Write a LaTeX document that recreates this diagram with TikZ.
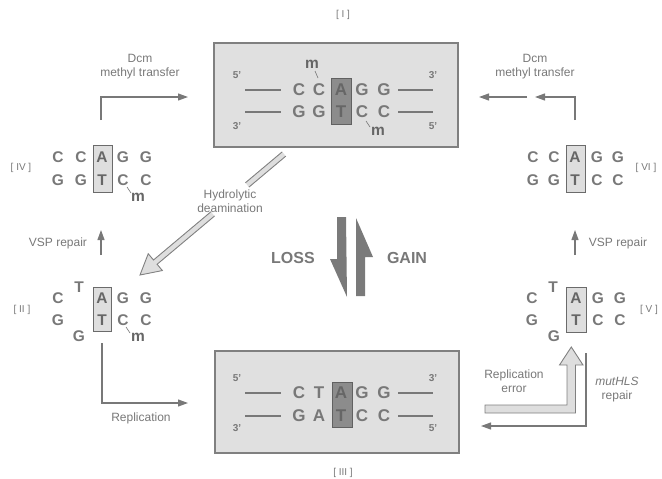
\documentclass[tikz,border=0pt]{standalone}
\usepackage{fontspec}
\setmainfont{Liberation Sans}
\usetikzlibrary{arrows.meta,calc}
\definecolor{ink}{HTML}{787878}
\definecolor{inkdark}{HTML}{666666}
\begin{document}
\begin{tikzpicture}[x=1pt,y=-1pt,
  nt/.style={font=\fontsize{17}{17}\selectfont\bfseries, text=ink, inner sep=0pt},
  ntin/.style={nt, text=inkdark},
  ns/.style={font=\fontsize{15.5}{15.5}\selectfont\bfseries, text=ink, inner sep=0pt},
  nsin/.style={ns, text=inkdark},
  mlab/.style={font=\fontsize{15.5}{15.5}\selectfont\bfseries, text=inkdark, inner sep=0pt},
  lbl/.style={font=\fontsize{12}{14}\selectfont, text=ink, align=center, inner sep=0pt},
  roman/.style={font=\fontsize{10}{10}\selectfont, text=ink, inner sep=0pt},
  prime/.style={font=\fontsize{10}{10}\selectfont\bfseries, text=ink, inner sep=0pt},
  bigword/.style={font=\fontsize{16}{16}\selectfont\bfseries, text=ink, inner sep=0pt},
  panel/.style={draw=black!50, line width=1.3pt, fill=black!12, inner sep=0pt},
  hldark/.style={draw=black!62, fill=black!45, line width=1pt, inner sep=0pt},
  hllight/.style={draw=black!58, fill=black!13, line width=1pt, inner sep=0pt},
  strand/.style={draw=ink, line width=1.5pt},
  tick/.style={draw=ink, line width=0.6pt},
  arr/.style={draw=ink, line width=1.1pt, -{Triangle[length=10pt,width=7pt]}},
  hollowfill/.style={fill=black!13},
  hollowline/.style={draw=black!50, line width=0.9pt, line join=miter},
  halfarrow/.style={fill=black!52}
]
\useasboundingbox (0,0) rectangle (662,479);

% ---------- panel [I] : methylated site ----------
\node[panel, minimum width=244, minimum height=104] (boxI) at (336,95) {};
\node[roman] (romI) at (343,15) {[ I ]};
\node[hldark, minimum width=20, minimum height=46] (hlI) at (341,101) {};
\foreach \ch/\x [count=\i] in {C/299,C/319,G/362,G/384}
  \node[nt] (It\i) at (\x,90) {\ch};
\foreach \ch/\x [count=\i] in {G/299,G/319,C/362,C/384}
  \node[nt] (Ib\i) at (\x,112) {\ch};
\node[ntin] (IA) at (341,90) {A};
\node[ntin] (IT) at (341,112) {T};
\node[prime] (I5a) at (237,75) {5'};
\node[prime] (I3a) at (433,75) {3'};
\node[prime] (I3b) at (237,126) {3'};
\node[prime] (I5b) at (433,126) {5'};
\coordinate (IlA) at (245,90);  \coordinate (IlB) at (281,90);
\coordinate (IrA) at (398,90);  \coordinate (IrB) at (433,90);
\coordinate (IlC) at (245,112); \coordinate (IlD) at (281,112);
\coordinate (IrC) at (398,112); \coordinate (IrD) at (433,112);
\draw[strand] (IlA) -- (IlB);  \draw[strand] (IrA) -- (IrB);
\draw[strand] (IlC) -- (IlD);  \draw[strand] (IrC) -- (IrD);
\node[mlab] (Im1) at (312,64) {m};
\node[mlab] (Im2) at (378,131) {m};
\draw[tick] (315,71) -- (318,78);
\draw[tick] (366,121) -- (370,127);

% ---------- panel [III] : mutated site ----------
\node[panel, minimum width=244, minimum height=102] (boxIII) at (337,402) {};
\node[roman] (romIII) at (343,473) {[ III ]};
\node[hldark, minimum width=20, minimum height=45] (hlIII) at (342,404.5) {};
\foreach \ch/\x [count=\i] in {C/299,T/319,G/362,G/384}
  \node[nt] (IIIt\i) at (\x,393) {\ch};
\foreach \ch/\x [count=\i] in {G/299,A/319,C/362,C/384}
  \node[nt] (IIIb\i) at (\x,416) {\ch};
\node[ntin] (IIIA) at (341,393) {A};
\node[ntin] (IIIT) at (341,416) {T};
\node[prime] (III5a) at (237,378) {5'};
\node[prime] (III3a) at (433,378) {3'};
\node[prime] (III3b) at (237,428) {3'};
\node[prime] (III5b) at (433,428) {5'};
\coordinate (IIIlA) at (245,393); \coordinate (IIIlB) at (281,393);
\coordinate (IIIrA) at (398,393); \coordinate (IIIrB) at (433,393);
\coordinate (IIIlC) at (245,416); \coordinate (IIIlD) at (281,416);
\coordinate (IIIrC) at (398,416); \coordinate (IIIrD) at (433,416);
\draw[strand] (IIIlA) -- (IIIlB);  \draw[strand] (IIIrA) -- (IIIrB);
\draw[strand] (IIIlC) -- (IIIlD);  \draw[strand] (IIIrC) -- (IIIrD);

% ---------- [IV] ----------
\node[roman] (romIV) at (21,168) {[ IV ]};
\node[hllight, minimum width=19, minimum height=47] (hlIV) at (102.5,168.5) {};
\foreach \ch/\x [count=\i] in {C/58,C/81,G/123,G/146}
  \node[ns] (IVt\i) at (\x,157) {\ch};
\foreach \ch/\x [count=\i] in {G/58,G/81,C/123,C/146}
  \node[ns] (IVb\i) at (\x,180) {\ch};
\node[nsin] (IVA) at (102,157) {A};
\node[nsin] (IVT) at (102,180) {T};
\node[mlab] (IVm) at (138,197) {m};
\draw[tick] (127,187) -- (131,193);

% ---------- [II] ----------
\node[roman] (romII) at (22,310) {[ II ]};
\node[hllight, minimum width=18, minimum height=44] (hlII) at (102,309) {};
\foreach \ch/\x [count=\i] in {C/58,G/123,G/146}
  \node[ns] (IIt\i) at (\x,298) {\ch};
\foreach \ch/\x [count=\i] in {G/58,C/123,C/146}
  \node[ns] (IIb\i) at (\x,320) {\ch};
\node[nsin] (IIA) at (102,298) {A};
\node[nsin] (IIT) at (102,320) {T};
\node[ns] (IIup) at (79,287) {T};
\node[ns] (IIdn) at (79,336) {G};
\node[mlab] (IIm) at (138,337) {m};
\draw[tick] (126,327) -- (130,333);

% ---------- [VI] ----------
\node[roman] (romVI) at (646,168) {[ VI ]};
\node[hllight, minimum width=19, minimum height=47] (hlVI) at (575.5,168.5) {};
\foreach \ch/\x [count=\i] in {C/533,C/554,G/597,G/618}
  \node[ns] (VIt\i) at (\x,157) {\ch};
\foreach \ch/\x [count=\i] in {G/533,G/554,C/597,C/618}
  \node[ns] (VIb\i) at (\x,180) {\ch};
\node[nsin] (VIA) at (575,157) {A};
\node[nsin] (VIT) at (575,180) {T};

% ---------- [V] ----------
\node[roman] (romV) at (649,310) {[ V ]};
\node[hllight, minimum width=20, minimum height=45] (hlV) at (576,309.5) {};
\foreach \ch/\x [count=\i] in {C/532,G/598,G/620}
  \node[ns] (Vt\i) at (\x,298) {\ch};
\foreach \ch/\x [count=\i] in {G/532,C/598,C/620}
  \node[ns] (Vb\i) at (\x,320) {\ch};
\node[nsin] (VA) at (576,298) {A};
\node[nsin] (VT) at (576,320) {T};
\node[ns] (Vup) at (553,287) {T};
\node[ns] (Vdn) at (554,336) {G};

% ---------- thin process arrows ----------
\coordinate (dcmLs) at (101,120);
\coordinate (dcmLe) at (188,97);
\draw[arr] (dcmLs) |- (dcmLe);
\node[lbl] (dcmL) at (140,67) {Dcm\\methyl transfer};

\coordinate (dcmRs) at (575,120);
\coordinate (dcmRm) at (535,97);
\coordinate (dcmRn) at (527,97);
\coordinate (dcmRe) at (479,97);
\draw[arr] (dcmRs) |- (dcmRm);
\draw[arr] (dcmRn) -- (dcmRe);
\node[lbl] (dcmR) at (535,67) {Dcm\\methyl transfer};

\coordinate (vspLs) at (101,255);
\coordinate (vspLe) at (101,230);
\draw[arr] (vspLs) -- (vspLe);
\node[lbl] (vspL) at (58,243) {VSP repair};

\coordinate (vspRs) at (575,255);
\coordinate (vspRe) at (575,230);
\draw[arr] (vspRs) -- (vspRe);
\node[lbl] (vspR) at (618,243) {VSP repair};

\coordinate (repLs) at (102,343);
\coordinate (repLe) at (188,403);
\draw[arr] (repLs) |- (repLe);
\node[lbl] (repL) at (141,418) {Replication};

\coordinate (mutS) at (586,353);
\coordinate (mutE) at (481,426);
\draw[arr] (mutS) |- (mutE);
\node[lbl] (mutL) at (617,390) {\itshape mutHLS\\repair};

\node[lbl] (repErr) at (514,381) {Replication\\error};

% ---------- hollow arrow: replication error ----------
\coordinate (reA) at (485,405);
\coordinate (reB) at (567,405);
\coordinate (reC) at (567,365);
\coordinate (reD) at (559.5,365);
\coordinate (reT) at (571.3,347);
\coordinate (reE) at (583,365);
\coordinate (reF) at (575.5,365);
\coordinate (reG) at (575.5,413);
\coordinate (reH) at (485,413);
\filldraw[hollowfill, hollowline] (reA) -- (reB) -- (reC) -- (reD) -- (reT)
  -- (reE) -- (reF) -- (reG) -- (reH) -- cycle;

% ---------- hollow arrow: hydrolytic deamination ----------
\coordinate (hdT) at (140,275);
\coordinate (hdS) at (284,154);
\coordinate (hdB) at ($(hdT)!20pt!(hdS)$);
\coordinate (hdL) at ($(hdT)!95pt!(hdS)$);
\coordinate (hdU) at ($(hdT)!140pt!(hdS)$);
\coordinate (hdBp) at ($(hdB)!2.8pt!90:(hdS)$);
\coordinate (hdBm) at ($(hdB)!2.8pt!-90:(hdS)$);
\coordinate (hdWp) at ($(hdB)!11pt!90:(hdS)$);
\coordinate (hdWm) at ($(hdB)!11pt!-90:(hdS)$);
\coordinate (hdLp) at ($(hdL)!2.8pt!90:(hdS)$);
\coordinate (hdLm) at ($(hdL)!2.8pt!-90:(hdS)$);
\coordinate (hdUp) at ($(hdU)!2.8pt!90:(hdS)$);
\coordinate (hdUm) at ($(hdU)!2.8pt!-90:(hdS)$);
\coordinate (hdSp) at ($(hdS)!2.8pt!-90:(hdT)$);
\coordinate (hdSm) at ($(hdS)!2.8pt!90:(hdT)$);
\fill[hollowfill] (hdLp) -- (hdBp) -- (hdWp) -- (hdT) -- (hdWm) -- (hdBm) -- (hdLm) -- cycle;
\draw[hollowline] (hdLp) -- (hdBp) -- (hdWp) -- (hdT) -- (hdWm) -- (hdBm) -- (hdLm);
\fill[hollowfill] (hdUp) -- (hdSp) -- (hdSm) -- (hdUm) -- cycle;
\draw[hollowline] (hdUp) -- (hdSp);
\draw[hollowline] (hdUm) -- (hdSm);
\node[lbl] (hydro) at (230,201) {Hydrolytic\\deamination};

% ---------- LOSS / GAIN half arrows ----------
\coordinate (lsA) at (337,217);
\coordinate (lsB) at (346,217);
\coordinate (lsT) at (347,297);
\coordinate (lsW) at (330,259);
\coordinate (lsC) at (337,259);
\fill[halfarrow] (lsA) -- (lsB) -- (lsT) -- (lsW) -- (lsC) -- cycle;
\coordinate (gnA) at (356,296);
\coordinate (gnB) at (365,296);
\coordinate (gnC) at (365,257);
\coordinate (gnW) at (373,257);
\coordinate (gnT) at (356,218);
\fill[halfarrow] (gnA) -- (gnB) -- (gnC) -- (gnW) -- (gnT) -- cycle;
\node[bigword] (loss) at (293,258) {LOSS};
\node[bigword] (gain) at (407,258) {GAIN};
\end{tikzpicture}
\end{document}
